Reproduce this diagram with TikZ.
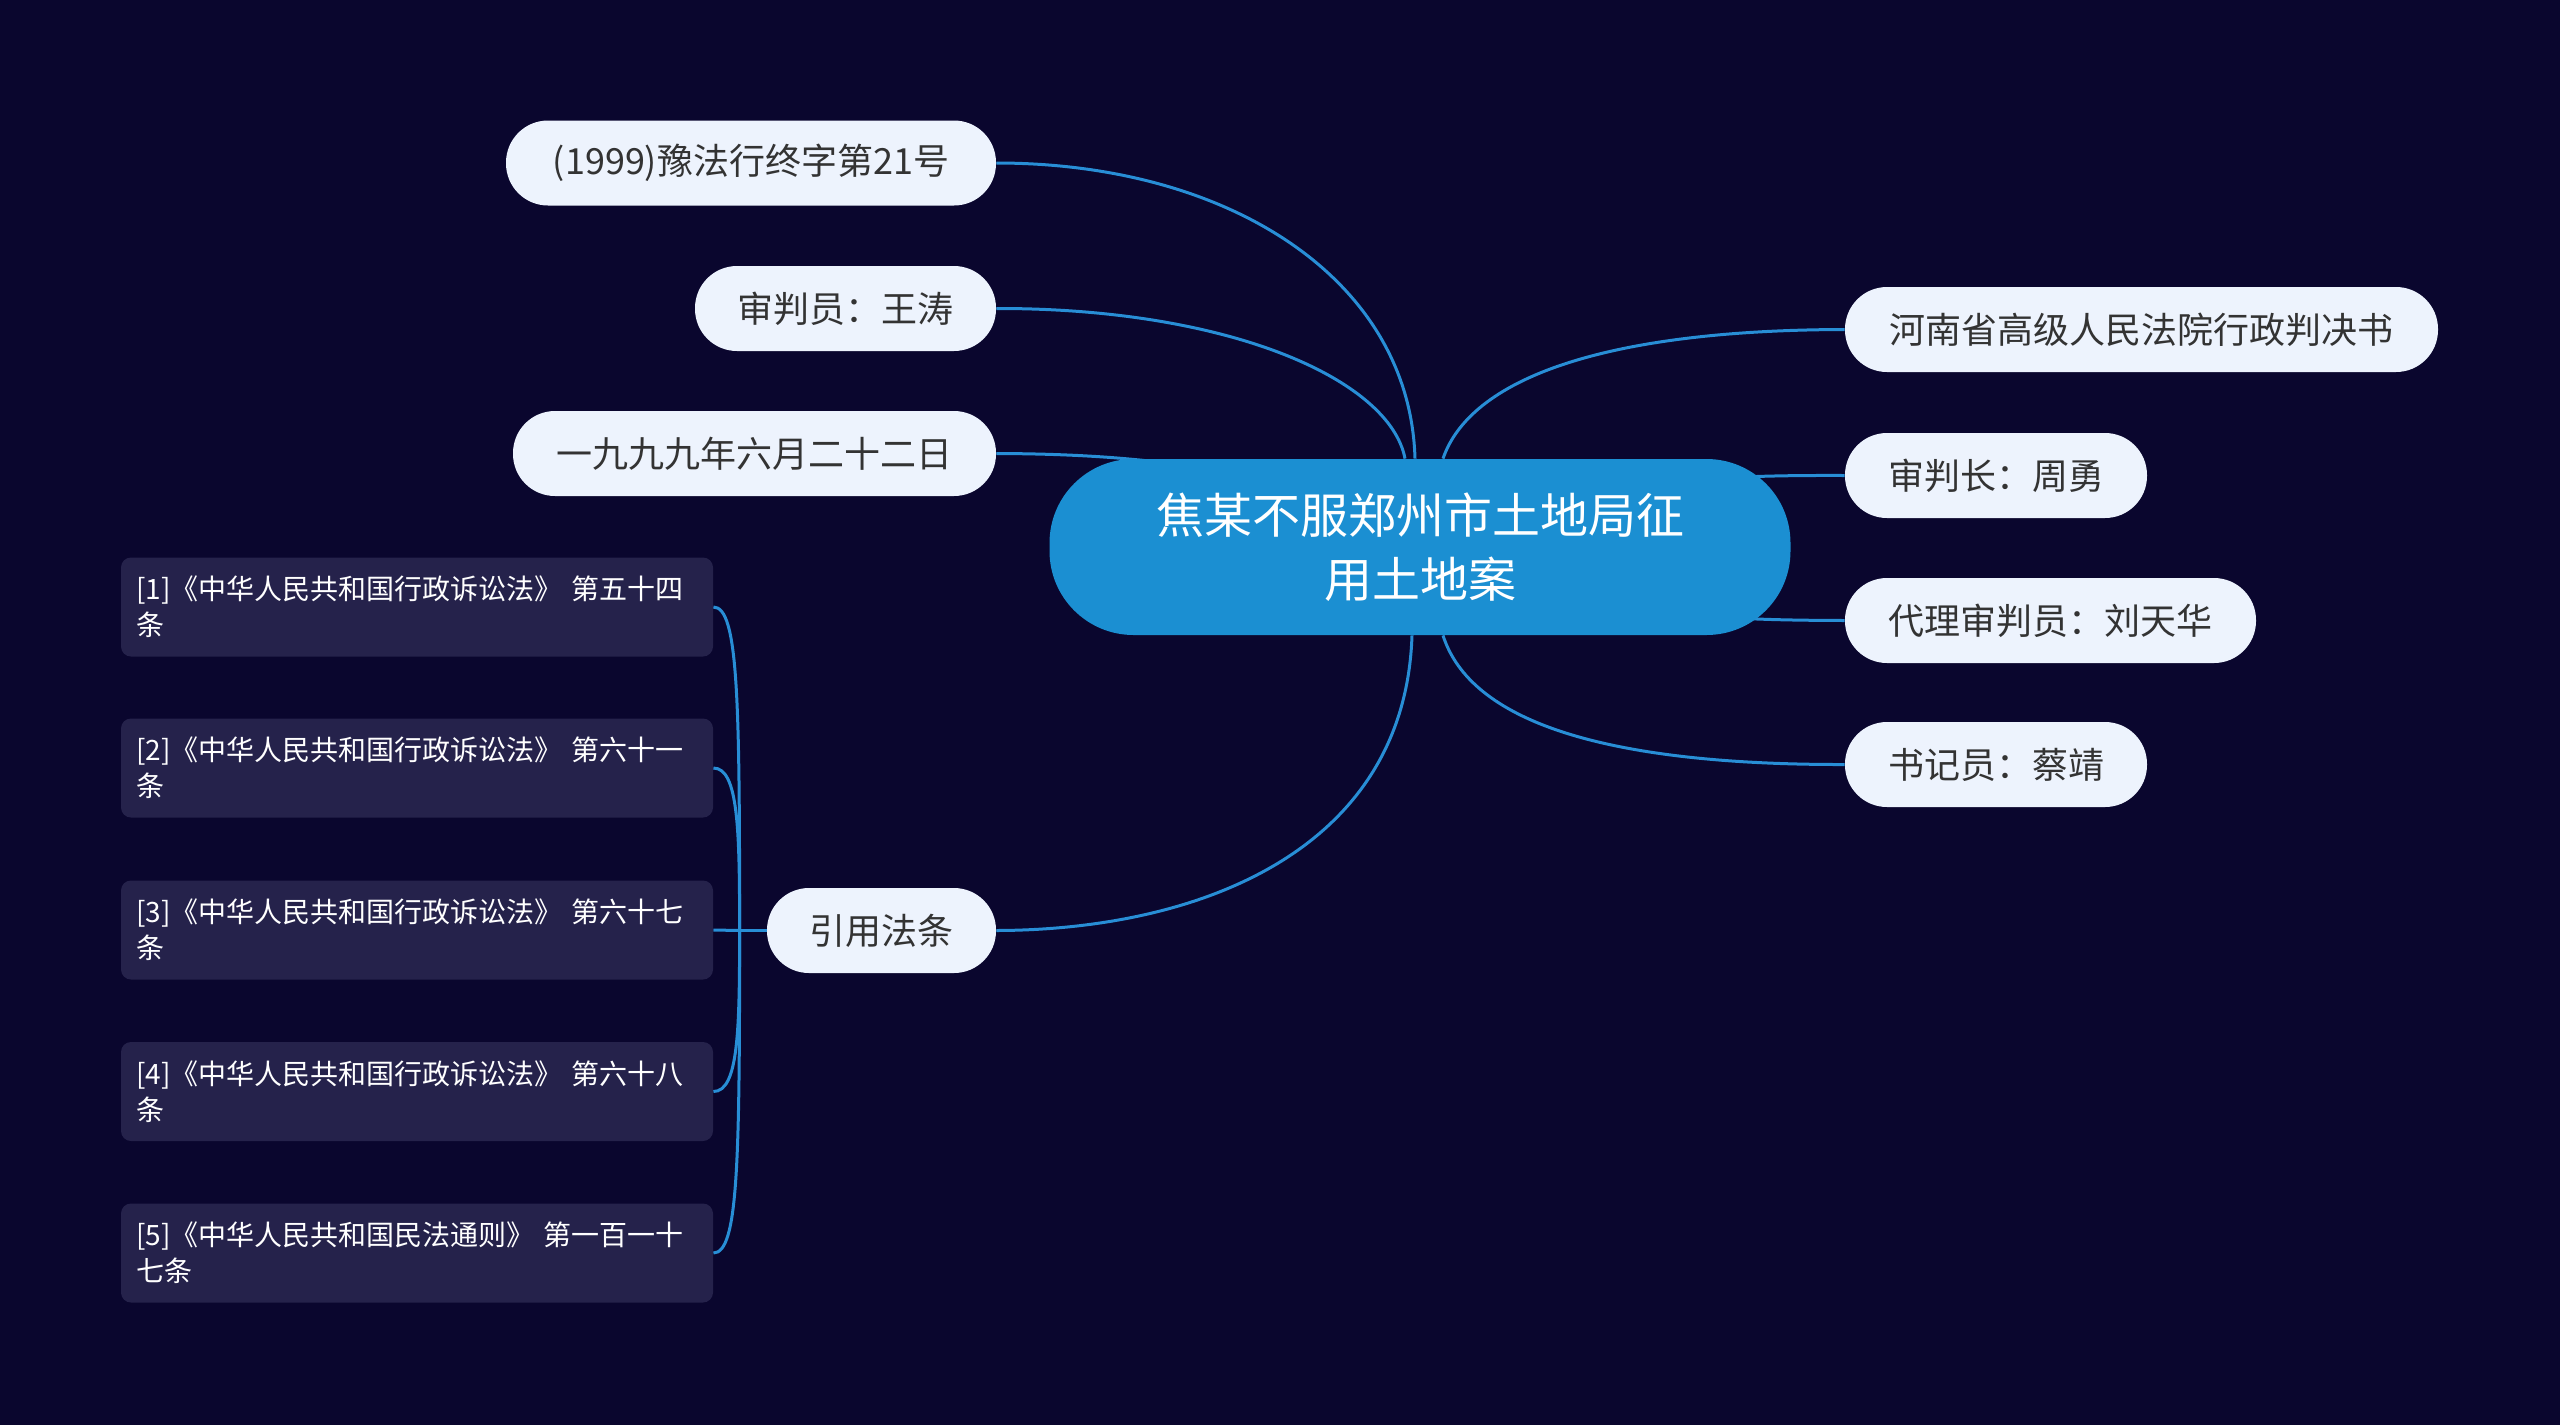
\documentclass[tikz,border=0pt]{standalone}
\usepackage{fontspec}
\setmainfont{Noto Sans CJK SC}
\usetikzlibrary{calc,backgrounds}
\definecolor{bg}{RGB}{10,6,46}
\definecolor{pale}{RGB}{237,243,253}
\definecolor{leaftext}{RGB}{51,51,51}
\definecolor{rootblue}{RGB}{27,143,210}
\definecolor{linec}{RGB}{40,142,214}
\definecolor{lawfill}{RGB}{37,34,75}
\tikzset{
  rootnode/.style={fill=rootblue, text=white, rounded corners=42pt, minimum width=370.5pt,
    minimum height=88pt, inner sep=0pt, align=center, font=\fontsize{24pt}{32pt}\selectfont},
  leaf/.style={fill=pale, text=leaftext, rounded corners=21pt, minimum height=42.5pt,
    inner sep=0pt, font=\fontsize{18pt}{22pt}\selectfont},
  law/.style={fill=lawfill, text=white, rounded corners=5pt, text width=281pt, inner xsep=7.5pt,
    inner ysep=0pt, minimum height=49.5pt, align=left, font=\fontsize{14pt}{18pt}\selectfont},
  conn/.style={draw=linec, line width=1.5pt}
}
\begin{document}
\begin{tikzpicture}[x=0.5pt,y=-0.5pt]
\useasboundingbox (0,0) rectangle (2560,1425);
% nodes
\node[rootnode] (root) at (1420,547) {焦某不服郑州市土地局征\\用土地案};
\node[leaf, minimum width=245pt] (a1) at (751,163) {(1999)豫法行终字第21号};
\node[leaf, minimum width=150.5pt] (a2) at (845.5,308.5) {审判员：王涛};
\node[leaf, minimum width=241.5pt] (a3) at (754.5,453.5) {一九九九年六月二十二日};
\node[leaf, minimum width=114.5pt] (ref) at (881.5,930.5) {引用法条};
\node[leaf, minimum width=296.5pt] (b1) at (2141.5,329.5) {河南省高级人民法院行政判决书};
\node[leaf, minimum width=151pt] (b2) at (1996,475.5) {审判长：周勇};
\node[leaf, minimum width=205.5pt] (b3) at (2050.5,620.5) {代理审判员：刘天华};
\node[leaf, minimum width=151pt] (b4) at (1996,764.5) {书记员：蔡靖};
\node[law] (l1) at (417,607) {[1]《中华人民共和国行政诉讼法》 第五十四\\条};
\node[law] (l2) at (417,768) {[2]《中华人民共和国行政诉讼法》 第六十一\\条};
\node[law] (l3) at (417,930) {[3]《中华人民共和国行政诉讼法》 第六十七\\条};
\node[law] (l4) at (417,1091.5) {[4]《中华人民共和国行政诉讼法》 第六十八\\条};
\node[law] (l5) at (417,1253) {[5]《中华人民共和国民法通则》 第一百一十\\七条};
\coordinate (j) at ($(ref.west)+(-27,0)$);
\begin{pgfonlayer}{background}
\fill[bg] (0,0) rectangle (2560,1425);
% left branches
\draw[conn] ($(root.north)+(-5,0)$) .. controls (1410,280) and (1230,163) .. (a1.east);
\draw[conn] ($(root.north)+(-15,0)$) .. controls (1390,380) and (1230,308) .. (a2.east);
\draw[conn] (a3.east) .. controls (1150,454) and (1300,470) .. (root.center);
\draw[conn] ($(root.south)+(-8,0)$) .. controls (1405,850) and (1200,930) .. (ref.east);
% right branches
\draw[conn] ($(root.north)+(23,0)$) .. controls (1470,380) and (1600,330) .. (b1.west);
\draw[conn] (root.center) .. controls (1600,480) and (1700,475) .. (b2.west);
\draw[conn] (root.center) .. controls (1600,615) and (1700,620) .. (b3.west);
\draw[conn] ($(root.south)+(23,0)$) .. controls (1470,720) and (1600,765) .. (b4.west);
% law branches
\draw[conn] (ref.west) -- (j);
\draw[conn] (j) .. controls ($(j)+(0,-230)$) and ($(l1.east)+(25,0)$) .. (l1.east);
\draw[conn] (j) .. controls ($(j)+(0,-100)$) and ($(l2.east)+(25,0)$) .. (l2.east);
\draw[conn] (j) -- (l3.east);
\draw[conn] (j) .. controls ($(j)+(0,100)$) and ($(l4.east)+(25,0)$) .. (l4.east);
\draw[conn] (j) .. controls ($(j)+(0,230)$) and ($(l5.east)+(25,0)$) .. (l5.east);
\end{pgfonlayer}
\end{tikzpicture}
\end{document}
